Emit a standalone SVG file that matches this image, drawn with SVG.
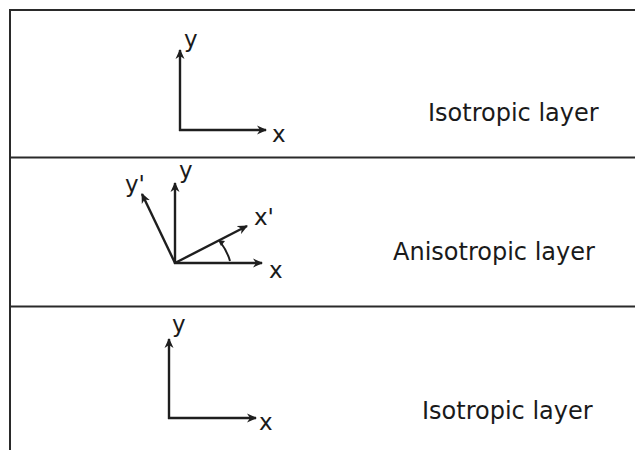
<svg xmlns="http://www.w3.org/2000/svg" width="635" height="450" viewBox="0 0 635 450">
<style>
.border{stroke:#2a2a2a;stroke-width:2;fill:none}
.ax{stroke:#1e1e1e;stroke-width:2.4;fill:none;marker-end:url(#ah)}
.arc{stroke:#1e1e1e;stroke-width:2;fill:none}
.lbl{font-family:"DejaVu Sans",sans-serif;font-size:24px;fill:#1a1a1a}
.al{font-family:"DejaVu Sans",sans-serif;font-size:23px;fill:#1a1a1a}
</style>
<defs>
<marker id="ah" markerWidth="12" markerHeight="10" refX="9" refY="5" orient="auto" markerUnits="userSpaceOnUse">
<path d="M0,0.5 L10,5 L0,9.5 L3,5 Z" fill="#1e1e1e"/>
</marker>
</defs>
<rect width="635" height="450" fill="#fff"/>
<g id="layers">
<path class="border" d="M635,10 H10 V450"/>
<line class="border" x1="10" y1="157.5" x2="635" y2="157.5"/>
<line class="border" x1="10" y1="306.5" x2="635" y2="306.5"/>
</g>
<g id="connectors">
<line class="ax" x1="180" y1="131" x2="180" y2="50"/>
<line class="ax" x1="179" y1="130" x2="266" y2="130"/>
<line class="ax" x1="175" y1="264" x2="175" y2="183"/>
<line class="ax" x1="174" y1="263" x2="262" y2="263"/>
<line class="ax" x1="175" y1="263" x2="247" y2="226"/>
<line class="ax" x1="175" y1="263" x2="142" y2="194"/>
<path class="arc" d="M230,261 A55,55 0 0 0 221,243"/>
<path d="M218,240 L225,241 L221,246 Z" fill="#1e1e1e"/>
<line class="ax" x1="169" y1="419" x2="169" y2="339"/>
<line class="ax" x1="168" y1="418" x2="256" y2="418"/>
</g>
<g id="top-layer">
<text class="al" x="184" y="47">y</text>
<text class="al" x="272" y="142">x</text>
<text class="lbl" x="428" y="121">Isotropic layer</text>
</g>
<g id="middle-layer">
<text class="al" x="125" y="192">y'</text>
<text class="al" x="179" y="178">y</text>
<text class="al" x="254" y="225">x'</text>
<text class="al" x="269" y="278">x</text>
<text class="lbl" x="393" y="260">Anisotropic layer</text>
</g>
<g id="bottom-layer">
<text class="al" x="172" y="332">y</text>
<text class="al" x="259" y="430">x</text>
<text class="lbl" x="422" y="419">Isotropic layer</text>
</g>
</svg>
